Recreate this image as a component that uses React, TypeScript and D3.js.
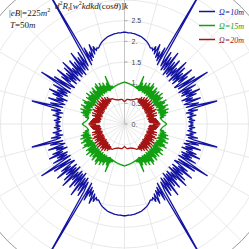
import * as d3 from 'd3';
import React from 'react';

const W = 249, H = 249;
const cx = 124.5, cy = 124;

const seriesNames = ['Ω=10m', 'Ω=15m', 'Ω=20m'];
const seriesColors = ['#1414a2', '#12a012', '#a41414'];

// radius read at theta = 0..90 deg (1 deg step), first quadrant; the plot is mirror symmetric
const blueR = [
  1.60, 1.66, 1.56, 1.70, 1.58, 1.64, 1.54, 1.74, 1.60, 1.68,
  1.52, 1.80, 1.58, 1.72, 2.30, 1.55, 1.86, 1.62, 1.52, 1.94,
  1.58, 1.76, 1.50, 1.88, 1.64, 2.00, 1.54, 1.82, 1.58, 1.96,
  1.52, 1.84, 2.36, 1.56, 2.04, 1.60, 1.50, 1.90, 1.66, 2.08,
  1.52, 1.86, 1.58, 1.98, 1.50, 2.10, 1.62, 1.84, 1.54, 2.02,
  1.58, 1.92, 1.52, 2.14, 1.62, 1.96, 1.58, 2.06, 1.66, 1.90,
  3.80, 1.64, 2.08, 1.72, 1.94, 1.78, 2.10, 1.84, 2.02, 1.90,
  1.96, 1.94, 1.97, 2.01, 2.04, 2.07, 2.09, 2.11, 2.13, 2.15,
  2.16, 2.17, 2.18, 2.19, 2.20, 2.20, 2.21, 2.21, 2.21, 2.22,
  2.22,
];
const greenR = [
  1.02, 1.00, 0.98, 0.96, 0.94, 0.92, 0.91, 0.90, 0.89, 0.88,
  0.96, 0.88, 1.02, 0.92, 0.89, 1.08, 0.90, 1.04, 0.87, 1.12,
  0.91, 0.88, 1.06, 0.86, 1.14, 0.92, 1.02, 0.87, 1.10, 0.89,
  1.16, 0.86, 1.04, 0.90, 0.86, 1.12, 0.88, 1.08, 0.85, 1.18,
  0.90, 1.06, 0.87, 1.14, 0.92, 0.86, 1.10, 0.89, 1.17, 0.87,
  1.04, 0.90, 1.15, 0.86, 1.20, 0.91, 1.08, 0.88, 1.16, 0.90,
  1.06, 0.88, 1.12, 0.91, 1.02, 0.89, 1.08, 0.88, 1.24, 0.90,
  0.98, 0.91, 0.96, 0.92, 0.93, 0.94, 0.94, 0.95, 0.95, 0.96,
  0.96, 0.97, 0.97, 0.98, 0.98, 0.99, 0.99, 1.00, 1.00, 1.01,
  1.02,
];
const redR = [
  0.86, 0.70, 0.84, 0.62, 0.82, 0.60, 0.80, 0.59, 0.78, 0.61,
  0.76, 0.58, 0.72, 0.61, 0.59, 0.80, 0.62, 0.73, 0.57, 0.82,
  0.60, 0.70, 0.58, 0.79, 0.63, 0.84, 0.59, 0.74, 0.57, 0.81,
  0.61, 0.76, 0.58, 0.85, 0.60, 0.72, 0.59, 0.83, 0.62, 0.77,
  0.58, 0.86, 0.61, 0.74, 0.60, 0.82, 0.63, 0.78, 0.60, 0.84,
  0.62, 0.75, 0.64, 0.80, 0.62, 0.72, 0.65, 0.77, 0.64, 0.71,
  0.68, 0.67, 0.69, 0.68, 0.68, 0.67, 0.66, 0.65, 0.64, 0.63,
  0.63, 0.62, 0.62, 0.61, 0.61, 0.60, 0.60, 0.60, 0.60, 0.60,
  0.60, 0.60, 0.60, 0.60, 0.60, 0.59, 0.58, 0.57, 0.56, 0.55,
  0.54,
];
const quadrants = [blueR, greenR, redR];

const radialTicks = [0, 0.5, 1, 1.5, 2, 2.5];
const radialTickLabels = ['0.', '0.5', '1.', '1.5', '2.', '2.5'];
const gridRadii = [0.5, 1, 1.5, 2, 2.5, 3, 3.5];
const rMax = 4;
const spokeStep = 15;

const r = d3.scaleLinear().domain([0, rMax]).range([0, 165.3]);

// unfold first quadrant into full turn by mirror symmetry
function fullTurn(q: number[]): [number, number][] {
  const pts: [number, number][] = [];
  for (let deg = 0; deg < 360; deg++) {
    const k = deg <= 90 ? deg : deg <= 180 ? 180 - deg : deg <= 270 ? deg - 180 : 360 - deg;
    pts.push([deg, q[k]]);
  }
  return pts;
}

const line = d3.lineRadial<[number, number]>()
  .angle(d => (90 - d[0]) * Math.PI / 180)
  .radius(d => r(d[1]))
  .curve(d3.curveLinearClosed);

const App = () => {
  const serif = "'Liberation Serif', 'DejaVu Serif', serif";
  const spokes = d3.range(0, 360, spokeStep);
  return (
    <svg width={W} height={H} style={{ position: 'absolute', left: 0, top: 0, background: '#fff' }}>
      <g transform={`translate(${cx},${cy})`}>
        {gridRadii.map(g => (
          <circle key={g} r={r(g)} fill="none" stroke="#e2e2e2" strokeWidth={0.8} />
        ))}
        {spokes.map(a => (
          <line key={a} x1={0} y1={0}
            x2={r(rMax) * Math.cos(a * Math.PI / 180)}
            y2={-r(rMax) * Math.sin(a * Math.PI / 180)}
            stroke="#e2e2e2" strokeWidth={0.8} />
        ))}
        <circle r={r(rMax)} fill="none" stroke="#999" strokeWidth={1} />
        <line x1={0} y1={0} x2={0} y2={-r(rMax)} stroke="#bbb" strokeWidth={0.8} />
        {radialTicks.map((t, i) => (
          <g key={t} transform={`translate(0,${-r(t)})`}>
            <line x1={0} x2={3} stroke="#999" strokeWidth={0.8} />
            <text x={7} y={2.5} fontSize={7} fill="#444" fontFamily="'Liberation Sans', sans-serif">{radialTickLabels[i]}</text>
          </g>
        ))}
        {quadrants.map((q, i) => (
          <path key={i} d={line(fullTurn(q)) || ''} fill="none" stroke={seriesColors[i]}
            strokeWidth={1.3} strokeLinejoin="round" />
        ))}
      </g>

      <text x={9} y={16} fontSize={9} fontFamily={serif} fill="#222">
        |<tspan fontStyle="italic">eB</tspan>|=225<tspan fontStyle="italic">m</tspan>
        <tspan fontSize={6} dy={-4}>2</tspan>
      </text>
      <text x={10} y={28} fontSize={9} fontFamily={serif} fill="#222" fontStyle="italic">
        T<tspan fontStyle="normal">=50</tspan>m
      </text>
      <text x={55} y={9} fontSize={9} fontFamily={serif} fill="#222" fontStyle="italic">
        d<tspan fontSize={6} dy={-4} fontStyle="normal">2</tspan>
        <tspan dy={4}>R</tspan><tspan fontSize={6} dy={2}>l</tspan>
        <tspan dy={-2} fontStyle="normal">[</tspan>w<tspan fontSize={6} dy={-4} fontStyle="normal">2</tspan>
        <tspan dy={4}>kdkd</tspan><tspan fontStyle="normal">(cos</tspan>θ<tspan fontStyle="normal">)]</tspan>k
      </text>

      {seriesNames.map((name, i) => (
        <g key={name} transform={`translate(199,${11.5 + i * 14})`}>
          <line x1={0} x2={16} stroke={seriesColors[i]} strokeWidth={1.5} />
          <text x={20} y={3} fontSize={8} fontFamily={serif} fontStyle="italic" fill={seriesColors[i]}>
            {name}
          </text>
        </g>
      ))}
    </svg>
  );
};

export default App;
